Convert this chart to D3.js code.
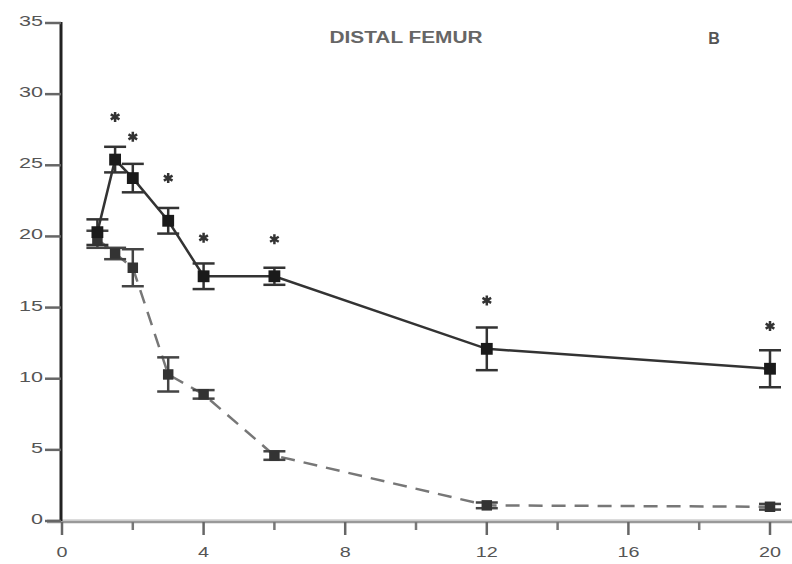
<!DOCTYPE html>
<html><head><meta charset="utf-8">
<script src="https://cdn.jsdelivr.net/npm/d3@7"></script>
<style>body{margin:0;background:#fff}</style>
</head><body>
<svg id="c" width="792" height="564"></svg>
<script>
const weeks = [1, 1.5, 2, 3, 4, 6, 12, 20];
const solidMean = [20.3, 25.4, 24.1, 21.1, 17.2, 17.2, 12.1, 10.7];
const solidErr  = [0.9, 0.9, 1.0, 0.9, 0.9, 0.6, 1.5, 1.3];
const dashedMean = [19.8, 18.8, 17.8, 10.3, 8.9, 4.6, 1.1, 1.0];
const dashedErr  = [0.6, 0.4, 1.3, 1.2, 0.3, 0.3, 0.2, 0.2];
const starY = [null, 28.4, 27.0, 24.1, 19.9, 19.8, 15.5, 13.7];
const xTicks = [0, 4, 8, 12, 16, 20];
const xMinor = [2, 6, 10, 14, 18];
const yTicks = [0, 5, 10, 15, 20, 25, 30, 35];
const title = "DISTAL FEMUR";
const panel = "B";

const FONT = "Liberation Sans, Arial, sans-serif";
const svg = d3.select("#c");
const x = d3.scaleLinear().domain([0, 20]).range([62, 770]);
const y = d3.scaleLinear().domain([0, 35]).range([521, 23]);

// x axis
const xa = svg.append("g").attr("transform", "translate(0,522)");
xa.append("line").attr("x1", 47).attr("x2", 792).attr("y1", -2).attr("y2", -2)
  .attr("stroke", "#dcdcdc").attr("stroke-width", 2);
xa.append("line").attr("x1", 47).attr("x2", 792).attr("y1", 0).attr("y2", 0)
  .attr("stroke", "#999").attr("stroke-width", 2.5);
xa.selectAll(".maj").data(xTicks).join("line").attr("class","maj")
  .attr("x1", d => x(d)).attr("x2", d => x(d)).attr("y1", 0).attr("y2", 13)
  .attr("stroke", "#666").attr("stroke-width", 2.5);
xa.selectAll(".min").data(xMinor).join("line").attr("class","min")
  .attr("x1", d => x(d)).attr("x2", d => x(d)).attr("y1", 0).attr("y2", 8)
  .attr("stroke", "#777").attr("stroke-width", 2.5);
xa.selectAll("text").data(xTicks).join("text")
  .attr("x", d => x(d)).attr("y", 35).attr("text-anchor", "middle")
  .attr("font-family", FONT).attr("font-size", 15)
  .attr("textLength", d => String(d).length * 11).attr("lengthAdjust", "spacingAndGlyphs")
  .attr("fill", "#555").text(d => d);

// y axis
const ya = svg.append("g");
ya.append("line").attr("x1", 61).attr("x2", 61).attr("y1", y(35) - 1).attr("y2", y(0))
  .attr("stroke", "#222").attr("stroke-width", 3);
ya.selectAll(".t").data(yTicks).join("line").attr("class","t")
  .attr("x1", 45).attr("x2", 61).attr("y1", d => y(d)).attr("y2", d => y(d))
  .attr("stroke", "#666").attr("stroke-width", 2.5);
ya.selectAll("text").data(yTicks).join("text")
  .attr("x", 43).attr("y", d => y(d) + 3).attr("text-anchor", "end")
  .attr("font-family", FONT).attr("font-size", 15)
  .attr("textLength", d => String(d).length * 12).attr("lengthAdjust", "spacingAndGlyphs")
  .attr("fill", "#555").text(d => d);

// title
svg.append("text").attr("x", 406).attr("y", 43).attr("text-anchor", "middle")
  .attr("font-family", FONT).attr("font-size", 16).attr("font-weight", "bold")
  .attr("fill", "#666").attr("textLength", 153).attr("lengthAdjust", "spacingAndGlyphs").text(title);
svg.append("text").attr("x", 714).attr("y", 44).attr("text-anchor", "middle")
  .attr("font-family", FONT).attr("font-size", 16)
  .attr("font-weight", "bold").attr("fill", "#555").text(panel);

const solid = weeks.map((w, i) => ({w, m: solidMean[i], e: solidErr[i]}));
const dashed = weeks.map((w, i) => ({w, m: dashedMean[i], e: dashedErr[i]}));
const line = d3.line().x(d => x(d.w)).y(d => y(d.m));

// dashed series
svg.append("path").datum(dashed).attr("d", line).attr("fill", "none")
  .attr("stroke", "#777").attr("stroke-width", 2.5).attr("stroke-dasharray", "14,9");
// solid series
svg.append("path").datum(solid).attr("d", line).attr("fill", "none")
  .attr("stroke", "#333").attr("stroke-width", 2.5);

function errorBars(data, col) {
  const g = svg.append("g").attr("stroke", col).attr("stroke-width", 2.5);
  g.selectAll(".v").data(data).join("line").attr("class","v")
    .attr("x1", d => x(d.w)).attr("x2", d => x(d.w))
    .attr("y1", d => y(d.m + d.e)).attr("y2", d => y(d.m - d.e));
  g.selectAll(".c1").data(data).join("line").attr("class","c1")
    .attr("x1", d => x(d.w) - 11).attr("x2", d => x(d.w) + 11)
    .attr("y1", d => y(d.m + d.e)).attr("y2", d => y(d.m + d.e));
  g.selectAll(".c2").data(data).join("line").attr("class","c2")
    .attr("x1", d => x(d.w) - 11).attr("x2", d => x(d.w) + 11)
    .attr("y1", d => y(d.m - d.e)).attr("y2", d => y(d.m - d.e));
}
errorBars(dashed, "#444");
errorBars(solid, "#333");

svg.selectAll(".sq").data(dashed).join("path").attr("class","sq")
  .attr("transform", d => `translate(${x(d.w)},${y(d.m)})`)
  .attr("d", d3.symbol(d3.symbolSquare, 110)).attr("fill", "#333");
svg.selectAll(".ci").data(solid).join("path").attr("class","ci")
  .attr("transform", d => `translate(${x(d.w)},${y(d.m)})`)
  .attr("d", d3.symbol(d3.symbolSquare, 140)).attr("fill", "#1a1a1a");

// significance stars
const stars = weeks.map((w, i) => ({w, s: starY[i]})).filter(d => d.s !== null);
svg.selectAll(".st").data(stars).join("path").attr("class","st")
  .attr("transform", d => `translate(${x(d.w)},${y(d.s)})`)
  .attr("d", d3.symbol(d3.symbolAsterisk, 70)).attr("fill", "none")
  .attr("stroke", "#333").attr("stroke-width", 2.5);
</script>
</body></html>
